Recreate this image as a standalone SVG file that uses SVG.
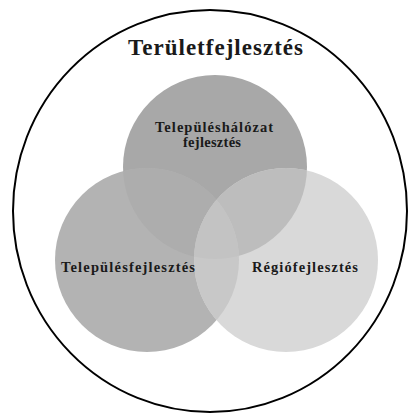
<svg xmlns="http://www.w3.org/2000/svg" width="409" height="415" viewBox="0 0 409 415">
<style>
text{font-family:"Liberation Serif","DejaVu Serif",serif;font-weight:bold;fill:#1a1a1a;text-anchor:middle}
.lbl{font-size:14.5px}
.title{font-size:23px}
</style>
<defs>
<clipPath id="cT"><circle cx="215" cy="167" r="92"/></clipPath>
<clipPath id="cL"><circle cx="147" cy="260" r="92"/></clipPath>
<clipPath id="cR"><circle cx="286" cy="260" r="92"/></clipPath>
</defs>
<rect width="409" height="415" fill="#fff"/>
<g id="outer">
<ellipse cx="210" cy="211" rx="197" ry="201" fill="none" stroke="#000" stroke-width="2"/>
<text class="title" x="215.5" y="55" textLength="175" lengthAdjust="spacing">Területfejlesztés</text>
</g>
<g id="top">
<circle cx="215" cy="167" r="92" fill="#a8a8a8"/>
</g>
<g id="left">
<circle cx="147" cy="260" r="92" fill="#b3b3b3"/>
</g>
<g id="right">
<circle cx="286" cy="260" r="92" fill="#d9d9d9"/>
</g>
<g id="overlaps">
<g clip-path="url(#cT)"><circle cx="147" cy="260" r="92" fill="#adadad"/><circle cx="286" cy="260" r="92" fill="#bdbdbd"/></g>
<g clip-path="url(#cL)"><circle cx="286" cy="260" r="92" fill="#c8c8c8"/></g>
<g clip-path="url(#cL)"><g clip-path="url(#cT)"><circle cx="286" cy="260" r="92" fill="#c3c3c3"/></g></g>
</g>
<g id="labels">
<text class="lbl" x="214" y="132"><tspan x="214" y="132" textLength="118" lengthAdjust="spacing">Településhálózat</tspan><tspan x="212" y="147" textLength="58" lengthAdjust="spacing">fejlesztés</tspan></text>
<text class="lbl" x="128" y="272" textLength="134" lengthAdjust="spacing">Településfejlesztés</text>
<text class="lbl" x="305" y="272" textLength="106" lengthAdjust="spacing">Régiófejlesztés</text>
</g>
</svg>
